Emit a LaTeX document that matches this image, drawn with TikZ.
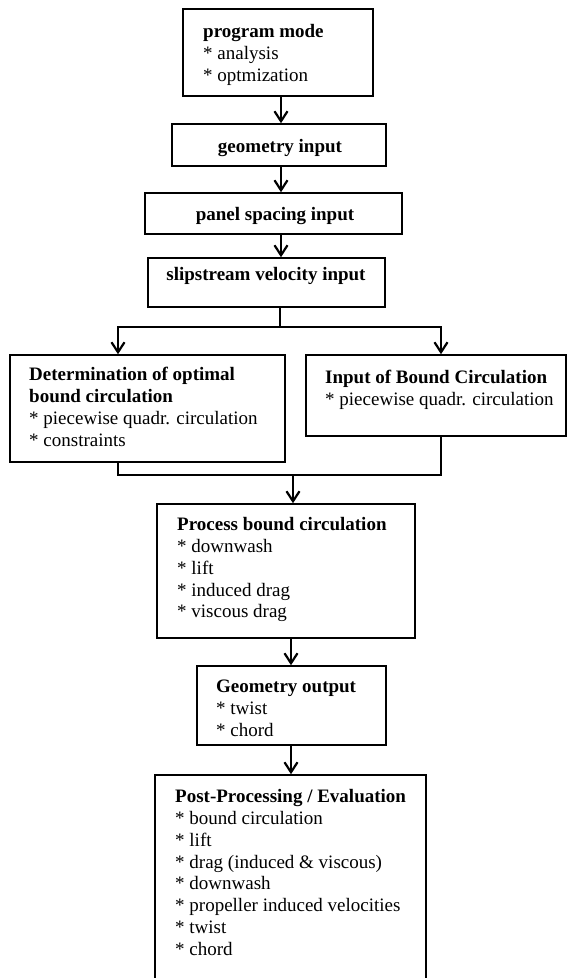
\documentclass[tikz,border=0pt]{standalone}
\usepackage{fontspec}
\setmainfont{Liberation Serif}
\usetikzlibrary{arrows.meta,calc}
\begin{document}
\begin{tikzpicture}[x=1pt,y=-1pt,
  box/.style={draw=black,line width=1.5pt,inner sep=0pt,rectangle},
  txt/.style={inner sep=0pt,align=left,font=\fontsize{19}{21.8}\selectfont,anchor=north west},
  ctxt/.style={inner sep=0pt,font=\fontsize{19}{21.8}\selectfont\bfseries,anchor=base},
  conn/.style={line width=1.8pt,draw=black,line join=miter},
  arr/.style={conn,-{Straight Barb[length=10pt,width=13pt,line width=2.2pt]}},
]
\useasboundingbox (0,0) rectangle (569,978);
\clip (0,0) rectangle (569,978);

% boxes
\node[box,minimum width=190pt,minimum height=87pt] (pm) at (278,52.5) {};
\node[box,minimum width=214pt,minimum height=42pt] (gi) at (279,145) {};
\node[box,minimum width=257pt,minimum height=41pt] (ps) at (273.5,213.5) {};
\node[box,minimum width=237pt,minimum height=49pt] (sv) at (266.5,282.5) {};
\node[box,minimum width=275pt,minimum height=107pt] (db) at (147.5,408.5) {};
\node[box,minimum width=260pt,minimum height=81pt] (ib) at (436,395.5) {};
\node[box,minimum width=258pt,minimum height=134pt] (pb) at (286,571) {};
\node[box,minimum width=189pt,minimum height=79pt] (go) at (291.5,705.5) {};
\node[box,minimum width=271pt,minimum height=240pt] (pp) at (290.5,895) {};

% texts
\node[txt] (pmt) at (203,22.2) {\strut\textbf{program mode}\\* analysis\\* optmization};
\node[ctxt] (git) at (280,152) {geometry input};
\node[ctxt] (pst) at (275,220) {panel spacing input};
\node[ctxt] (svt) at (266,280) {slipstream velocity input};
\node[txt] (dbt) at (29,365.2) {\strut\textbf{Determination of optimal}\\\textbf{bound circulation}\\* piecewise quadr. circulation\\* constraints};
\node[txt] (ibt) at (325,368.2) {\strut\textbf{Input of Bound Circulation}\\* piecewise quadr. circulation};
\node[txt] (pbt) at (177,515.2) {\strut\textbf{Process bound circulation}\\* downwash\\* lift\\* induced drag\\* viscous drag};
\node[txt] (got) at (216,677.2) {\strut\textbf{Geometry output}\\* twist\\* chord};
\node[txt] (ppt) at (175,787.2) {\strut\textbf{Post-Processing / Evaluation}\\* bound circulation\\* lift\\* drag (induced \& viscous)\\* downwash\\* propeller induced velocities\\* twist\\* chord};

% connectors
\coordinate (c1) at (281,0);
\draw[arr] (pm.south -| c1) -- (gi.north -| c1);
\draw[arr] (gi.south -| c1) -- (ps.north -| c1);
\draw[arr] (ps.south -| c1) -- (sv.north -| c1);

\coordinate (sm) at (280,327);
\coordinate (sl) at (118,327);
\coordinate (sr) at (441,327);
\draw[conn] (sv.south -| sm) -- (sm);
\draw[arr] (sm) -| (db.north -| sl);
\draw[arr] (sm) -| (ib.north -| sr);

\coordinate (ml) at (118,475);
\coordinate (mr) at (441,475);
\coordinate (mm) at (293,475);
\draw[conn] (db.south -| ml) -- (ml) -- (mr) -- (ib.south -| mr);
\draw[arr] (mm) -- (pb.north -| mm);

\coordinate (c2) at (291,0);
\draw[arr] (pb.south -| c2) -- (go.north -| c2);
\draw[arr] (go.south -| c2) -- (pp.north -| c2);
\end{tikzpicture}
\end{document}
